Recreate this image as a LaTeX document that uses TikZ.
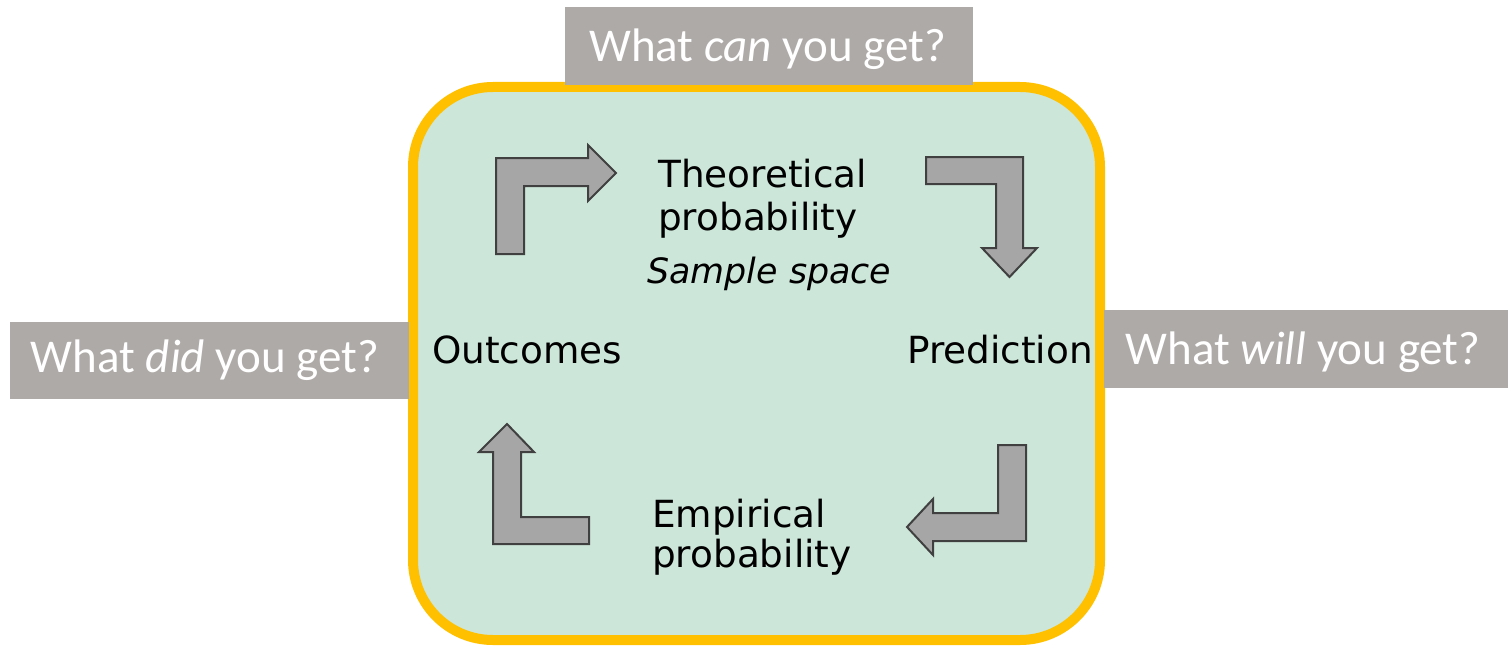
\documentclass[tikz,border=0pt]{standalone}
\usepackage{fontspec}
\setmainfont{Carlito}
\newfontfamily\dvs{DejaVu Sans}
\definecolor{boxgrey}{RGB}{174,170,168}
\definecolor{cyclegreen}{RGB}{205,230,218}
\definecolor{ringyellow}{RGB}{255,192,0}
\definecolor{arrowgrey}{RGB}{166,166,166}
\definecolor{arrowedge}{RGB}{64,64,64}
\begin{document}
\begin{tikzpicture}[x=1bp,y=-1bp,
  greybox/.style={fill=boxgrey, draw=none, inner sep=0},
  qtext/.style={text=white, font=\fontsize{47.2}{56}\selectfont, inner sep=0, anchor=base},
  lbl/.style={font=\dvs\fontsize{37.5}{45}\selectfont, inner sep=0, anchor=base west, text=black},
  slbl/.style={font=\dvs\itshape\fontsize{35}{42}\selectfont, inner sep=0, anchor=base west, text=black},
  bent/.style={fill=arrowgrey, draw=arrowedge, line width=2bp, line join=miter}]
\useasboundingbox (0,0) rectangle (1508,649);
% cycle panel
\draw[fill=cyclegreen, draw=ringyellow, line width=10bp, rounded corners=80bp] (413,87) rectangle (1100,640);
% question boxes
\node[greybox, minimum width=408bp, minimum height=78bp] (canbox) at (769,46) {};
\node[greybox, minimum width=399bp, minimum height=77bp] (didbox) at (209.5,360.5) {};
\node[greybox, minimum width=404bp, minimum height=78bp] (willbox) at (1306,349) {};
\node[qtext] (cantext) at (767.5,62) {What \textit{can} you get?};
\node[qtext] (didtext) at (205,372) {What \textit{did} you get?};
\node[qtext] (willtext) at (1303,364) {What \textit{will} you get?};
% labels
\node[lbl] (theo1) at (658,187) {Theoretical};
\node[lbl] (theo2) at (658,230) {probability};
\node[slbl] (sample) at (647,283) {Sample space};
\node[lbl] (outc) at (432,363) {Outcomes};
\node[lbl] (pred) at (907,363) {Prediction};
\node[lbl] (emp1) at (652,527) {Empirical};
\node[lbl] (emp2) at (652,567) {probability};
% bent block arrows
\draw[bent] (496,254) -- (496,158) -- (588,158) -- (588,145) -- (616,173) -- (588,201) -- (588,186) -- (524,186) -- (524,254) -- cycle;
\draw[bent] (926,157) -- (1023,157) -- (1023,248) -- (1037,248) -- (1009.5,277) -- (982,248) -- (996,248) -- (996,184) -- (926,184) -- cycle;
\draw[bent] (493,544) -- (493,452) -- (479,452) -- (507,424) -- (534,452) -- (521,452) -- (521,517) -- (589,517) -- (589,544) -- cycle;
\draw[bent] (1026,445) -- (1026,541) -- (933,541) -- (933,555) -- (907,527) -- (933,499) -- (933,513) -- (998,513) -- (998,445) -- cycle;
\end{tikzpicture}
\end{document}
